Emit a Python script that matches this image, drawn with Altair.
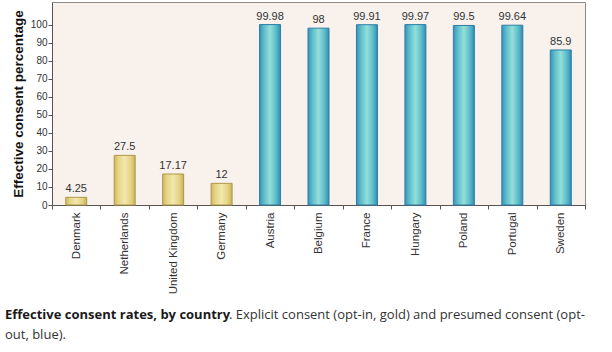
import altair as alt
import pandas as pd

countries = ["Denmark", "Netherlands", "United Kingdom", "Germany", "Austria",
             "Belgium", "France", "Hungary", "Poland", "Portugal", "Sweden"]
values = [4.25, 27.5, 17.17, 12, 99.98, 98, 99.91, 99.97, 99.5, 99.64, 85.9]
labels = ["4.25", "27.5", "17.17", "12", "99.98", "98", "99.91", "99.97", "99.5", "99.64", "85.9"]
consent = ["opt-in"] * 4 + ["opt-out"] * 7
y_ticks = [0, 10, 20, 30, 40, 50, 60, 70, 80, 90, 100]

caption_bold = "Effective consent rates, by country"
caption_line1 = ". Explicit consent (opt-in, gold) and presumed consent (opt-"
caption_line2 = "out, blue)."

df = pd.DataFrame({"country": countries, "value": values, "label": labels, "consent": consent})

x_enc = alt.X("country:N", sort=countries, title=None,
              scale=alt.Scale(paddingInner=0, paddingOuter=0),
              axis=alt.Axis(labelAngle=-90, tickBand="extent", labelFont="Liberation Sans",
                            labelFontSize=11.5, labelColor="#333333", labelPadding=3,
                            tickSize=4, tickColor="#555555", domainColor="#555555",
                            labelBaseline="middle"))
y_enc = alt.Y("value:Q", title="Effective consent percentage",
              scale=alt.Scale(domain=[0, 112.5], nice=False),
              axis=alt.Axis(values=y_ticks, grid=False, labelFont="Liberation Sans",
                            labelFontSize=10, labelColor="#333333", labelPadding=1,
                            tickSize=4, tickColor="#555555", domainColor="#555555",
                            titleFont="Liberation Sans", titleFontSize=13.5,
                            titleFontWeight="bold", titleColor="#111111", titlePadding=5))

base = alt.Chart(df)

gold = alt.Gradient(gradient="linear", x1=0, x2=1, y1=0, y2=0, stops=[
    alt.GradientStop(color="#cdb65e", offset=0),
    alt.GradientStop(color="#e6d588", offset=0.2),
    alt.GradientStop(color="#f2e7ad", offset=0.5),
    alt.GradientStop(color="#e4d282", offset=0.8),
    alt.GradientStop(color="#c8b05a", offset=1)])
blue = alt.Gradient(gradient="linear", x1=0, x2=1, y1=0, y2=0, stops=[
    alt.GradientStop(color="#3a90b8", offset=0),
    alt.GradientStop(color="#5bbccc", offset=0.2),
    alt.GradientStop(color="#95dfd8", offset=0.5),
    alt.GradientStop(color="#58bac9", offset=0.8),
    alt.GradientStop(color="#3489b2", offset=1)])

bars_gold = base.transform_filter(alt.datum.consent == "opt-in").mark_bar(
    width=21, color=gold, stroke="#b09848", strokeWidth=1).encode(x=x_enc, y=y_enc)
bars_blue = base.transform_filter(alt.datum.consent == "opt-out").mark_bar(
    width=21, color=blue, stroke="#2c7fa6", strokeWidth=1).encode(x=x_enc, y=y_enc)

text = base.mark_text(baseline="bottom", dy=-3, font="Liberation Sans", fontSize=11,
                      color="#333333").encode(x=x_enc, y=y_enc, text="label:N")

cap_bold = alt.Chart(pd.DataFrame({"t": [caption_bold]})).mark_text(
    align="left", baseline="middle", font="Open Sans", fontSize=13, fontWeight="bold",
    color="#1a1a1a").encode(x=alt.value(-47), y=alt.value(313), text="t:N")
cap_l1 = alt.Chart(pd.DataFrame({"t": [caption_line1]})).mark_text(
    align="left", baseline="middle", font="Open Sans", fontSize=13,
    color="#333333").encode(x=alt.value(177), y=alt.value(313), text="t:N")
cap_l2 = alt.Chart(pd.DataFrame({"t": [caption_line2]})).mark_text(
    align="left", baseline="middle", font="Open Sans", fontSize=13,
    color="#333333").encode(x=alt.value(-47), y=alt.value(333), text="t:N")

chart = alt.layer(bars_gold, bars_blue, text, cap_bold, cap_l1, cap_l2).properties(
    width=533, height=203,
    autosize=alt.AutoSizeParams(type="none"),
    padding={"left": 52, "top": 2, "right": 27, "bottom": 147},
    background="white",
).configure_view(fill="#f8f1ec", stroke="#8a8a8a", strokeWidth=1)

chart.save("out.html", embed_options={"renderer": "svg", "actions": False})
